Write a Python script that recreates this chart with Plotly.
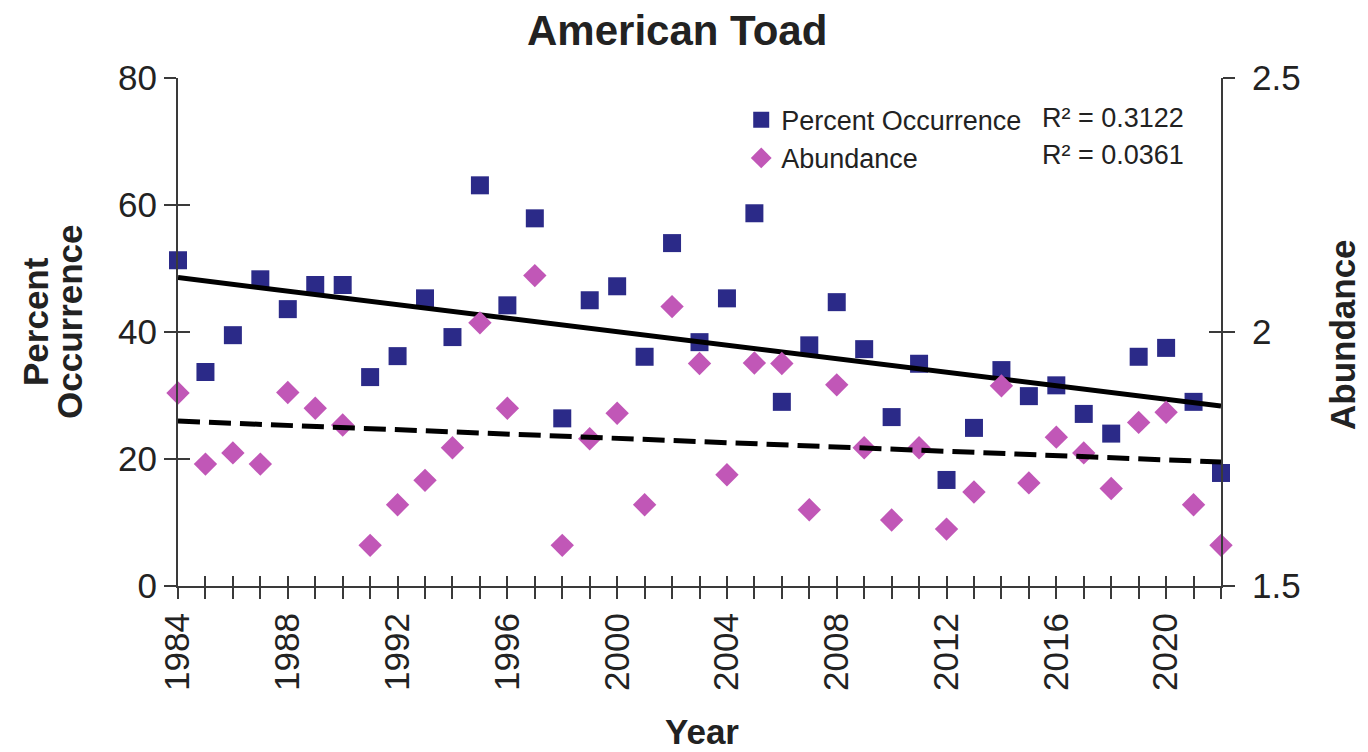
import numpy as np
import plotly.graph_objects as go

years = list(range(1984, 2023))
percent_occurrence = [51.3, 33.7, 39.5, 48.3, 43.6, 47.4, 47.4, 32.9, 36.2, 45.3, 39.2, 63.1,
                      44.2, 57.9, 26.4, 45.0, 47.2, 36.1, 54.0, 38.4, 45.3, 58.7, 29.0, 37.9,
                      44.7, 37.3, 26.6, 35.0, 16.7, 24.9, 34.0, 29.9, 31.6, 27.1, 24.0, 36.1,
                      37.5, 29.0, 17.8]
abundance = [1.880, 1.740, 1.762, 1.740, 1.881, 1.850, 1.817, 1.580, 1.660, 1.708, 1.772, 2.018,
             1.850, 2.111, 1.580, 1.790, 1.840, 1.660, 2.050, 1.938, 1.719, 1.939, 1.938, 1.650,
             1.896, 1.772, 1.630, 1.772, 1.612, 1.685, 1.894, 1.703, 1.793, 1.762, 1.692, 1.822,
             1.842, 1.660, 1.580]
r2_labels = ["R² = 0.3122", "R² = 0.0361"]
x_ticks = list(range(1984, 2021, 4))
y1_ticks = [0, 20, 40, 60, 80]
y2_ticks = [1.5, 2, 2.5]

NAVY = "#2B2A88"
MAGENTA = "#C157B7"
AX = "#3a3a3a"
FONT = "Liberation Sans, Arial, sans-serif"

yrs = np.array(years, dtype=float)
p_fit = np.polyfit(yrs, percent_occurrence, 1)
a_fit = np.polyfit(yrs, abundance, 1)
x_line = [years[0], years[-1]]

fig = go.Figure()
fig.add_trace(go.Scatter(x=years, y=percent_occurrence, mode="markers", name="Percent Occurrence",
                         marker=dict(symbol="square", size=18, color=NAVY), cliponaxis=False,
                         yaxis="y"))
fig.add_trace(go.Scatter(x=years, y=abundance, mode="markers", name="Abundance",
                         marker=dict(symbol="diamond", size=18, color=MAGENTA), cliponaxis=False,
                         yaxis="y2"))
fig.add_trace(go.Scatter(x=x_line, y=list(np.polyval(p_fit, x_line)), mode="lines",
                         line=dict(color="black", width=5), showlegend=False, yaxis="y"))
fig.add_trace(go.Scatter(x=x_line, y=list(np.polyval(a_fit, x_line)), mode="lines",
                         line=dict(color="black", width=5, dash="22px,9px"), showlegend=False, yaxis="y2"))

tickfont = dict(family=FONT, size=35, color="#222")
fig.update_layout(
    width=1368, height=752,
    margin=dict(l=178, r=147, t=78, b=166),
    paper_bgcolor="white", plot_bgcolor="white",
    font=dict(family=FONT, color="#222"),
    showlegend=True,
    legend=dict(x=0.54, y=0.965, xanchor="left", yanchor="top",
                font=dict(family=FONT, size=27, color="#222"),
                bgcolor="rgba(0,0,0,0)", tracegroupgap=0, itemwidth=30),
    xaxis=dict(range=[1984, 2022], tickvals=x_ticks, ticktext=[str(v) for v in x_ticks],
               tickangle=-90, tickfont=tickfont, showgrid=False, zeroline=False,
               showline=True, linecolor=AX, linewidth=2,
               ticks="outside", ticklen=11, tickwidth=2, tickcolor=AX,
               minor=dict(dtick=1, ticks="outside", ticklen=11, tickwidth=2, tickcolor=AX)),
    xaxis2=dict(range=[1984, 2022], overlaying="x", side="bottom", anchor="y",
                showticklabels=False, showgrid=False, zeroline=False, showline=False,
                ticks="inside", ticklen=10, tickwidth=2, tickcolor=AX,
                tickmode="linear", dtick=1, tick0=1984),
    yaxis=dict(range=[0, 80], tickvals=y1_ticks, tickfont=tickfont, showgrid=False, zeroline=False,
               showline=True, linecolor=AX, linewidth=2,
               ticks="outside", ticklen=12, tickwidth=2, tickcolor=AX),
    yaxis2=dict(range=[1.5, 2.5], tickvals=y2_ticks, ticktext=["1.5", "2", "2.5"], overlaying="y",
                side="right", anchor="x", tickfont=tickfont, showgrid=False, zeroline=False,
                showline=True, linecolor=AX, linewidth=2, ticklabelstandoff=10,
                ticks="outside", ticklen=12, tickwidth=2, tickcolor=AX),
    yaxis3=dict(range=[0, 80], tickvals=y1_ticks, overlaying="y", side="left", anchor="x",
                showticklabels=False, showgrid=False, zeroline=False, showline=False,
                ticks="inside", ticklen=12, tickwidth=2, tickcolor=AX),
    yaxis4=dict(range=[1.5, 2.5], tickvals=y2_ticks, overlaying="y", side="right", anchor="x",
                showticklabels=False, showgrid=False, zeroline=False, showline=False,
                ticks="inside", ticklen=12, tickwidth=2, tickcolor=AX),
)
# invisible traces so the overlay tick axes (crossing ticks) are drawn
fig.add_trace(go.Scatter(x=[2000], y=[40], xaxis="x2", yaxis="y", mode="markers",
                         marker=dict(opacity=0), showlegend=False, hoverinfo="skip"))
fig.add_trace(go.Scatter(x=[2000], y=[40], xaxis="x", yaxis="y3", mode="markers",
                         marker=dict(opacity=0), showlegend=False, hoverinfo="skip"))
fig.add_trace(go.Scatter(x=[2000], y=[2], xaxis="x", yaxis="y4", mode="markers",
                         marker=dict(opacity=0), showlegend=False, hoverinfo="skip"))

W = 1368 - 178 - 147
H = 752 - 78 - 166
def px(x):
    return (x - 178) / W
def py(y):
    return (752 - 166 - y) / H

ann = [
    dict(text="<b>American Toad</b>", x=px(677), y=py(31), font=dict(size=42)),
    dict(text="<b>Percent</b>", x=px(35), y=py(322), textangle=-90, font=dict(size=35)),
    dict(text="<b>Occurrence</b>", x=px(69), y=py(322), textangle=-90, font=dict(size=35)),
    dict(text="<b>Abundance</b>", x=px(1342), y=py(335), textangle=-90, font=dict(size=35)),
    dict(text="<b>Year</b>", x=px(702), y=py(731), font=dict(size=35)),
]
for a in ann:
    a.update(xref="paper", yref="paper", showarrow=False, xanchor="center", yanchor="middle")
    a["font"].update(family=FONT, color="#222")
    fig.add_annotation(**a)
for i, lab in enumerate(r2_labels):
    fig.add_annotation(text=lab, xref="paper", yref="paper", x=px(1186), y=py(118 + 37 * i),
                       xanchor="right", yanchor="middle", showarrow=False,
                       font=dict(family=FONT, size=27, color="#222"))

fig.write_html("out.html")
